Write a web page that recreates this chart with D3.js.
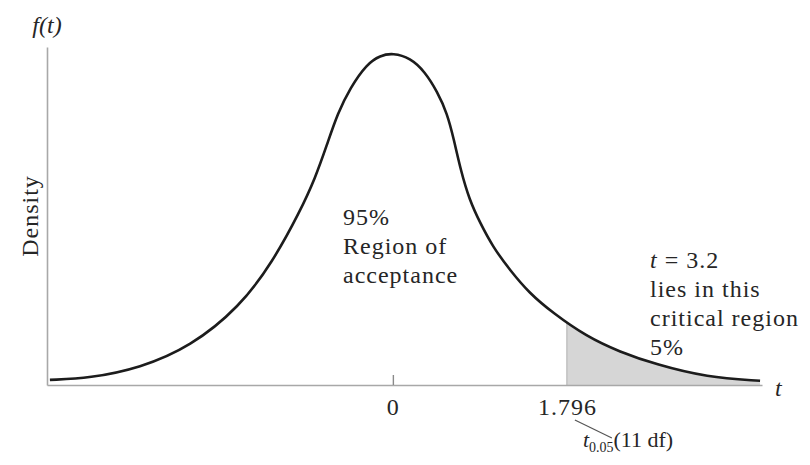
<!DOCTYPE html>
<html>
<head>
<meta charset="utf-8">
<script src="https://cdn.jsdelivr.net/npm/d3@7"></script>
<style>
  html, body { margin: 0; padding: 0; background: #fff; }
  svg text { font-family: "Liberation Serif", "Times New Roman", serif; fill: #262626; }
</style>
</head>
<body>
<svg id="chart" width="810" height="465"></svg>
<script>
// values: t and density f(t) along the curve
const tValues = [-3.54, -3.13, -2.61, -2.09, -1.58, -1.24, -0.96, -0.80, -0.68, -0.57, -0.44, -0.27, -0.13, 0,
                 0.18, 0.33, 0.46, 0.56, 0.63, 0.70, 0.79, 0.90, 1.03, 1.21, 1.41, 1.65, 2.00, 2.34, 2.72, 3.24, 3.79];
const densityValues = [0.006, 0.008, 0.020, 0.045, 0.092, 0.145, 0.204, 0.244, 0.283, 0.320, 0.350, 0.378, 0.388, 0.391,
                       0.385, 0.369, 0.345, 0.320, 0.289, 0.253, 0.218, 0.191, 0.163, 0.135, 0.108, 0.085, 0.057, 0.039, 0.024, 0.009, 0.005];
const tickValues = [0, 1.796];
const tickLabels = ["0", "1.796"];
const criticalT = 1.796;
const centerLines = ["95%", "Region of", "acceptance"];
const tailLines = ["t = 3.2", "lies in this", "critical region", "5%"];

const svg = d3.select('#chart');

const x = d3.scaleLinear().domain([-3.57, 3.81]).range([47, 762]);
const y = d3.scaleLinear().domain([0, 0.398]).range([385, 47]);

const points = tValues.map((t, i) => ({ t: t, d: densityValues[i] }));

const line = d3.line()
  .x(d => x(d.t))
  .y(d => y(d.d))
  .curve(d3.curveBasis);

const area = d3.area()
  .x(d => x(d.t))
  .y0(y(0))
  .y1(d => y(d.d))
  .curve(d3.curveBasis);

// clip the tail shading to the area under the curve
svg.append('clipPath')
  .attr('id', 'under')
  .append('path')
  .attr('d', area(points));

const tail = svg.append('g').attr('clip-path', 'url(#under)');
tail.append('rect')
  .attr('x', x(criticalT))
  .attr('y', y(0.398))
  .attr('width', x.range()[1] - x(criticalT) + 5)
  .attr('height', y(0) - y(0.398))
  .attr('fill', '#d6d6d6');
tail.append('line')
  .attr('x1', x(criticalT)).attr('x2', x(criticalT))
  .attr('y1', y(0)).attr('y2', y(0.398))
  .attr('stroke', '#b8b8b8')
  .attr('stroke-width', 1.2);

// x axis: baseline, one tick mark at 0, labels
const xAxis = svg.append('g')
  .attr('transform', `translate(0,${y(0)})`)
  .call(d3.axisBottom(x)
    .tickValues(tickValues)
    .tickFormat((d, i) => tickLabels[i])
    .tickSizeInner(-10)
    .tickSizeOuter(0));
xAxis.select('.domain').attr('stroke', '#a8a8a8').attr('stroke-width', 1.6);
xAxis.selectAll('.tick line')
  .attr('stroke', '#8a8a8a')
  .attr('stroke-width', 1.4)
  .filter(d => d !== 0).remove();
xAxis.selectAll('.tick text')
  .attr('y', 30)
  .attr('dy', null)
  .attr('font-size', 24)
  .attr('letter-spacing', 1)
  .attr('fill', '#262626');

// y axis: just the line
const yAxis = svg.append('g')
  .attr('transform', `translate(${x.range()[0]},0)`)
  .call(d3.axisLeft(y).tickValues([]).tickSizeOuter(0));
yAxis.select('.domain').attr('stroke', '#a8a8a8').attr('stroke-width', 1.6);

// the density curve
svg.append('path')
  .datum(points)
  .attr('d', line)
  .attr('fill', 'none')
  .attr('stroke', '#1c1c1c')
  .attr('stroke-width', 2.6);

// axis titles
svg.append('text')
  .attr('x', 47).attr('y', 33)
  .attr('text-anchor', 'middle')
  .attr('font-size', 24)
  .attr('font-style', 'italic')
  .text('f(t)');

svg.append('text')
  .attr('transform', 'translate(38,216) rotate(-90)')
  .attr('text-anchor', 'middle')
  .attr('font-size', 24)
  .attr('letter-spacing', 1)
  .text('Density');

svg.append('text')
  .attr('x', x.range()[1] + 13).attr('y', 396)
  .attr('font-size', 24)
  .attr('font-style', 'italic')
  .text('t');

// center annotation
svg.append('text')
  .attr('font-size', 24)
  .attr('letter-spacing', 1)
  .selectAll('tspan')
  .data(centerLines)
  .join('tspan')
  .attr('x', 343)
  .attr('y', (d, i) => 225 + i * 29)
  .text(d => d);

// tail annotation
const tailText = svg.append('text')
  .attr('font-size', 24)
  .attr('letter-spacing', 1);
tailLines.forEach((s, i) => {
  const row = tailText.append('tspan').attr('x', 650).attr('y', 268 + i * 29);
  if (i === 0) {
    row.append('tspan').attr('font-style', 'italic').text('t');
    row.append('tspan').text(s.slice(1));
  } else {
    row.text(s);
  }
});

// t_0.05 (11 df) label with leader line
const cx = x(criticalT);
svg.append('line')
  .attr('x1', cx + 8).attr('y1', 420)
  .attr('x2', cx + 45).attr('y2', 438)
  .attr('stroke', '#555')
  .attr('stroke-width', 1.2);

const critLabel = svg.append('text')
  .attr('x', cx + 16).attr('y', 447)
  .attr('font-size', 22);
critLabel.append('tspan').attr('font-style', 'italic').text('t');
critLabel.append('tspan').attr('font-size', 14).attr('dy', 5).text('0.05');
critLabel.append('tspan').attr('dy', -5).text('(11 df)');
</script>
</body>
</html>
